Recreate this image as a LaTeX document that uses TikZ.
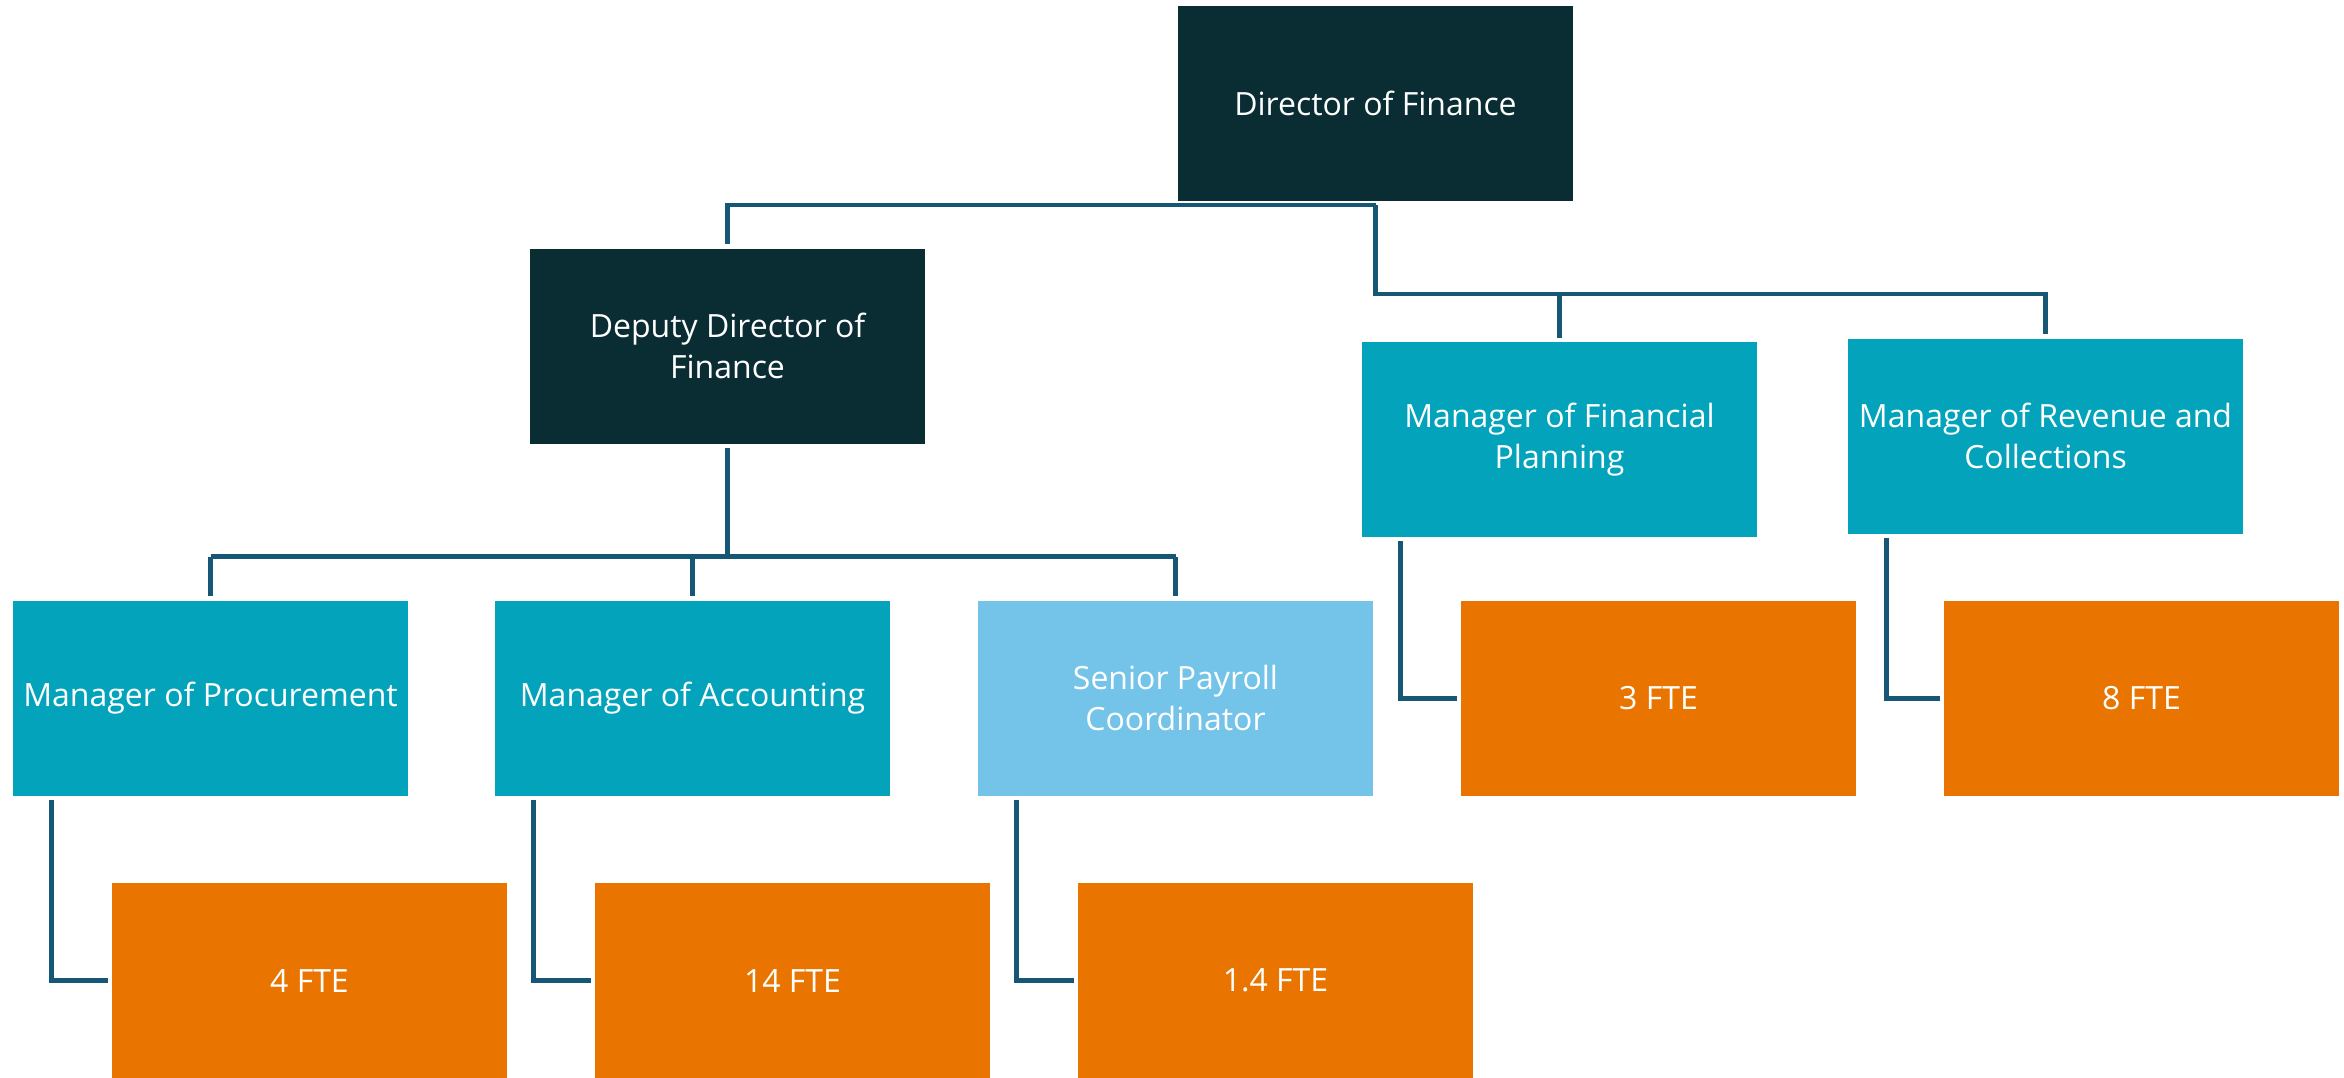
\documentclass[tikz,border=0pt]{standalone}
\usepackage{fontspec}
\setmainfont{Open Sans}
\usetikzlibrary{calc}
\definecolor{darkbox}{RGB}{10,44,51}
\definecolor{tealbox}{RGB}{3,163,187}
\definecolor{lightbox}{RGB}{115,196,232}
\definecolor{orangebox}{RGB}{233,117,0}
\definecolor{connline}{RGB}{22,87,117}
\begin{document}
\begin{tikzpicture}[x=1pt,y=-1pt,
  box/.style={rectangle, inner sep=0pt, minimum width=395pt, minimum height=195pt,
    text=white, align=center, font=\fontsize{32}{41}\selectfont},
  dirbox/.style={box, fill=darkbox},
  mgrbox/.style={box, fill=tealbox},
  coordbox/.style={box, fill=lightbox},
  ftebox/.style={box, fill=orangebox},
  conn/.style={draw=connline, line width=4.5pt}
]
\useasboundingbox[fill=white] (0,0) rectangle (2344,1077);

% nodes
\node[dirbox] (dir) at (1375.5,103.5) {Director of Finance};
\node[dirbox] (dep) at (727.5,346) {Deputy Director of\\Finance};
\node[mgrbox] (mfp) at (1559.5,439.5) {Manager of Financial\\Planning};
\node[mgrbox] (mrc) at (2045.5,436) {Manager of Revenue and\\Collections};
\node[mgrbox] (proc) at (210.5,698) {Manager of Procurement};
\node[mgrbox] (acc) at (692.5,698) {Manager of Accounting};
\node[coordbox] (pay) at (1175.5,698) {Senior Payroll\\Coordinator};
\node[ftebox] (f3) at (1658.5,698.5) {3 FTE};
\node[ftebox] (f8) at (2141.5,698.5) {8 FTE};
\node[ftebox] (f4) at (309.5,980.5) {4 FTE};
\node[ftebox] (f14) at (792.5,980.5) {14 FTE};
\node[ftebox] (f14b) at (1275.5,980.5) {1.4 FTE};

% junction coordinates
\coordinate (dtop) at ($(dir.south)+(0,4)$);
\coordinate (dbus) at ($(dir.south)+(0,93)$);
\coordinate (depbus) at ($(dep.south)+(0,113)$);

% director -> deputy
\draw[conn] (dtop) -| ($(dep.north)+(0,-4)$);
% director -> right managers
\draw[conn] (dtop) -- (dbus) -| ($(mrc.north)+(0,-4)$);
\draw[conn] (dbus -| mfp.north) -- ($(mfp.north)+(0,-4)$);
% deputy -> managers
\draw[conn] ($(dep.south)+(0,4)$) -- (depbus);
\draw[conn] (depbus -| proc.north) -- (depbus -| pay.north);
\draw[conn] (depbus -| proc.north) -- ($(proc.north)+(0,-4)$);
\draw[conn] (depbus -| acc.north) -- ($(acc.north)+(0,-4)$);
\draw[conn] (depbus -| pay.north) -- ($(pay.north)+(0,-4)$);

% elbows manager -> FTE
\foreach \m/\f in {proc/f4, acc/f14, pay/f14b, mfp/f3, mrc/f8}{
  \draw[conn] ($(\m.south west)+(38.5,4)$) |- ($(\f.west)+(-4,0)$);
}
\end{tikzpicture}
\end{document}
